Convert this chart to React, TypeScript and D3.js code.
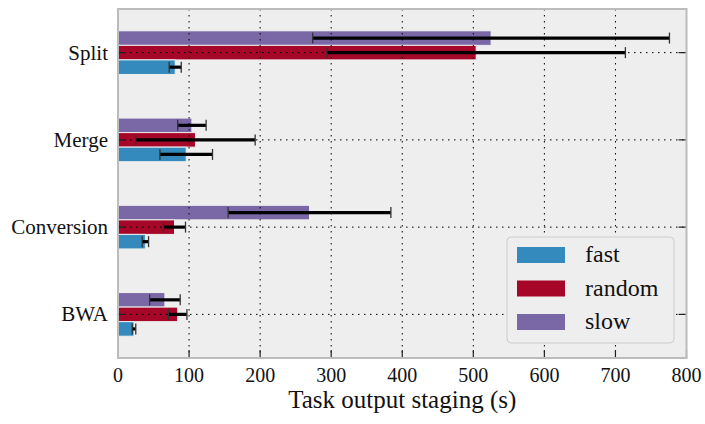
import React, { useEffect, useRef } from "react";
import * as d3 from "d3";

// data
const categories = ["Split", "Merge", "Conversion", "BWA"];
const seriesNames = ["slow", "random", "fast"];
const legendOrder = ["fast", "random", "slow"];
const seriesColors = ["#7A68A6", "#A60628", "#348ABD"];

const slowMean = [525, 104, 269.5, 66];
const slowErr = [251, 20, 114.5, 21.5];
const randomMean = [504, 109, 79.5, 84];
const randomErr = [210, 84, 15.5, 13];
const fastMean = [80.5, 96, 38.5, 22.5];
const fastErr = [8.5, 37, 4.5, 2.5];

const xTicks = [0, 100, 200, 300, 400, 500, 600, 700, 800];
const xLabel = "Task output staging (s)";

const FONT = "'Liberation Serif', 'DejaVu Serif', serif";

function App() {
  const ref = useRef<SVGSVGElement | null>(null);

  useEffect(() => {
    const svg = d3.select(ref.current);
    svg.selectAll("*").remove();

    const width = 705;
    const height = 424;
    const margin = { top: 9, right: 18.5, bottom: 66, left: 118 };
    const plotW = width - margin.left - margin.right;
    const plotH = height - margin.top - margin.bottom;

    const means = [slowMean, randomMean, fastMean];
    const errs = [slowErr, randomErr, fastErr];
    const rows: { cat: string; s: string; color: string; v: number; e: number }[] = [];
    categories.forEach((c, i) => {
      seriesNames.forEach((s, j) => {
        rows.push({ cat: c, s, color: seriesColors[j], v: means[j][i], e: errs[j][i] });
      });
    });

    // scales
    const x = d3.scaleLinear().domain([0, 800]).range([0, plotW]);
    const y = d3.scaleBand().domain(categories).range([0, plotH]).padding(0);
    const bw = y.bandwidth();
    const yInner = d3.scaleBand().domain(seriesNames).range([bw * 0.25, bw * 0.75]).padding(0);

    const g = svg.append("g").attr("transform", `translate(${margin.left},${margin.top})`);

    // background
    g.append("rect")
      .attr("width", plotW)
      .attr("height", plotH)
      .attr("fill", "#eeeeee");

    // bars
    g.selectAll("rect.bar")
      .data(rows)
      .enter()
      .append("rect")
      .attr("class", "bar")
      .attr("x", x(0))
      .attr("y", (d) => (y(d.cat) as number) + (yInner(d.s) as number))
      .attr("width", (d) => x(d.v) - x(0))
      .attr("height", yInner.bandwidth())
      .attr("fill", (d) => d.color)
      .attr("stroke", "#eeeeee")
      .attr("stroke-width", 1);

    // grid on top of bars
    g.selectAll("line.vgrid")
      .data(xTicks)
      .enter()
      .append("line")
      .attr("x1", (d) => x(d))
      .attr("x2", (d) => x(d))
      .attr("y1", 0)
      .attr("y2", plotH)
      .attr("stroke", "#000")
      .attr("stroke-width", 1)
      .attr("stroke-dasharray", "1.5,4.5");

    g.selectAll("line.hgrid")
      .data(categories)
      .enter()
      .append("line")
      .attr("x1", 0)
      .attr("x2", plotW)
      .attr("y1", (d) => (y(d) as number) + bw / 2)
      .attr("y2", (d) => (y(d) as number) + bw / 2)
      .attr("stroke", "#000")
      .attr("stroke-width", 1)
      .attr("stroke-dasharray", "1.5,4.5");

    // error bars
    const eb = g.selectAll("g.err").data(rows).enter().append("g");
    const cy = (d: any) => (y(d.cat) as number) + (yInner(d.s) as number) + yInner.bandwidth() / 2;
    eb.append("line")
      .attr("x1", (d) => x(d.v - d.e))
      .attr("x2", (d) => x(d.v + d.e))
      .attr("y1", cy)
      .attr("y2", cy)
      .attr("stroke", "#000")
      .attr("stroke-width", 3.2);
    [-1, 1].forEach((sgn) => {
      eb.append("line")
        .attr("x1", (d) => x(d.v + sgn * d.e))
        .attr("x2", (d) => x(d.v + sgn * d.e))
        .attr("y1", (d) => cy(d) - 5.5)
        .attr("y2", (d) => cy(d) + 5.5)
        .attr("stroke", "#333")
        .attr("stroke-width", 1.3);
    });

    // ticks (inward)
    g.selectAll("line.xtick")
      .data(xTicks)
      .enter()
      .append("line")
      .attr("x1", (d) => x(d))
      .attr("x2", (d) => x(d))
      .attr("y1", plotH)
      .attr("y2", plotH - 8)
      .attr("stroke", "#222")
      .attr("stroke-width", 1.2);

    [0, plotW].forEach((xx) => {
      g.selectAll(null)
        .data(categories)
        .enter()
        .append("line")
        .attr("x1", xx)
        .attr("x2", xx === 0 ? 8 : plotW - 8)
        .attr("y1", (d) => (y(d) as number) + bw / 2)
        .attr("y2", (d) => (y(d) as number) + bw / 2)
        .attr("stroke", "#222")
        .attr("stroke-width", 1.2);
    });

    // frame
    g.append("rect")
      .attr("width", plotW)
      .attr("height", plotH)
      .attr("fill", "none")
      .attr("stroke", "#bcbcbc")
      .attr("stroke-width", 2);

    // tick labels
    g.selectAll("text.xlab")
      .data(xTicks)
      .enter()
      .append("text")
      .attr("x", (d) => x(d))
      .attr("y", plotH + 24)
      .attr("text-anchor", "middle")
      .attr("font-family", FONT)
      .attr("font-size", 20)
      .attr("fill", "#111")
      .text((d) => String(d));

    g.selectAll("text.ylab")
      .data(categories)
      .enter()
      .append("text")
      .attr("x", -10)
      .attr("y", (d) => (y(d) as number) + bw / 2 + 7)
      .attr("text-anchor", "end")
      .attr("font-family", FONT)
      .attr("font-size", 21)
      .attr("fill", "#111")
      .text((d) => d);

    // axis label
    svg.append("text")
      .attr("x", margin.left + plotW / 2)
      .attr("y", 408)
      .attr("text-anchor", "middle")
      .attr("font-family", FONT)
      .attr("font-size", 25)
      .attr("fill", "#111")
      .text(xLabel);

    // legend
    const lg = svg.append("g").attr("transform", "translate(507,237)");
    lg.append("rect")
      .attr("width", 167)
      .attr("height", 106)
      .attr("rx", 4)
      .attr("fill", "#eeeeee")
      .attr("stroke", "#cccccc")
      .attr("stroke-width", 1);
    legendOrder.forEach((s, i) => {
      const j = seriesNames.indexOf(s);
      lg.append("rect")
        .attr("x", 10)
        .attr("y", 10 + i * 33.5)
        .attr("width", 48)
        .attr("height", 16)
        .attr("fill", seriesColors[j]);
      lg.append("text")
        .attr("x", 78)
        .attr("y", 25 + i * 33.5)
        .attr("font-family", FONT)
        .attr("font-size", 24)
        .attr("fill", "#111")
        .text(s);
    });
  }, []);

  return (
    <svg
      ref={ref}
      width={705}
      height={424}
      style={{ position: "absolute", left: 0, top: 0, background: "#fff" }}
    />
  );
}

export default App;
